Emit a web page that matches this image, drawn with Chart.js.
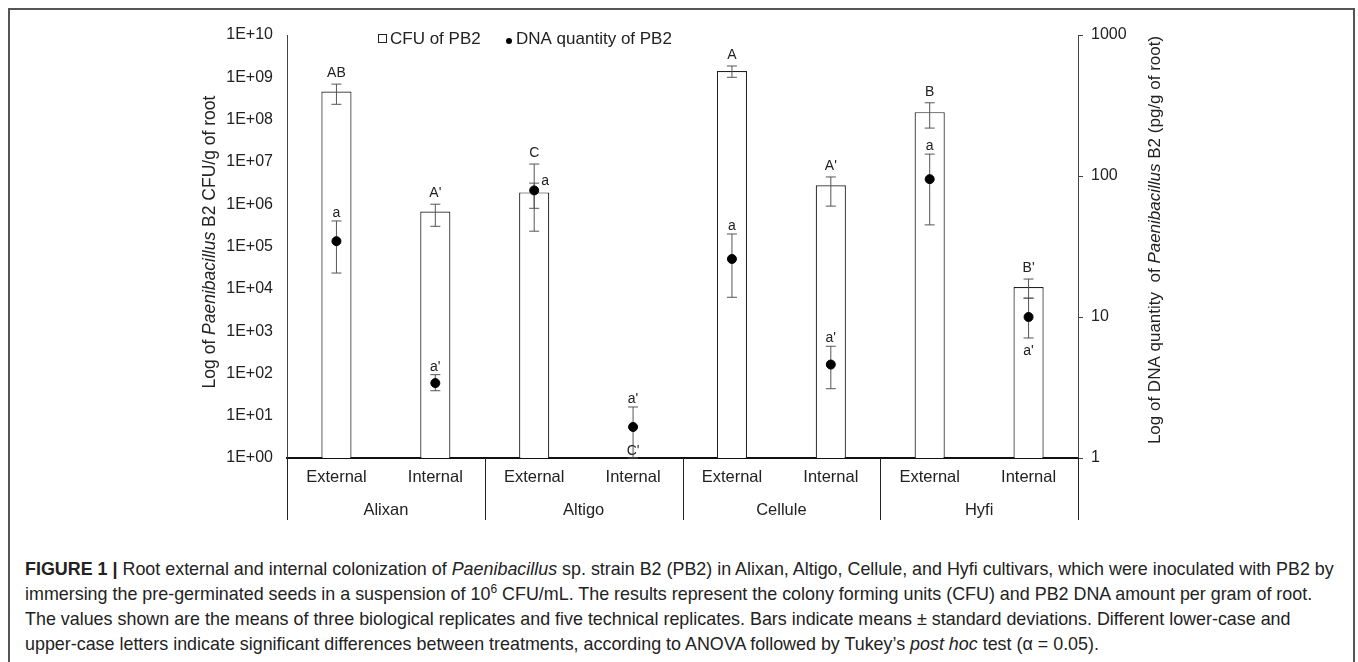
<!DOCTYPE html>
<html>
<head>
<meta charset="utf-8">
<script src="https://cdn.jsdelivr.net/npm/chart.js@4.4.0/dist/chart.umd.min.js"></script>
<style>
    body { margin: 0; background: #fff; width: 1358px; height: 662px; overflow: hidden; font-family: "Liberation Sans", Arial, sans-serif; }
    #frame { position: absolute; left: 8px; top: 8px; width: 1343px; height: 700px; border: 2px solid #555; border-bottom: none; }
    #wrap { position: absolute; left: 0; top: 0; width: 1358px; height: 540px; }
    #caption { position: absolute; left: 25px; top: 557px; font-size: 17.9px; line-height: 25px; color: #222; white-space: nowrap; }
    #caption b { font-weight: bold; }
</style>
</head>
<body>
<div id="frame"></div>
<div id="wrap"><canvas id="myChart" width="1358" height="540"></canvas></div>
<div id="caption">
<b>FIGURE 1 |</b> Root external and internal colonization of <i>Paenibacillus</i> sp. strain B2 (PB2) in Alixan, Altigo, Cellule, and Hyfi cultivars, which were inoculated with PB2 by<br>
immersing the pre-germinated seeds in a suspension of 10<sup style="font-size:12px;line-height:0">6</sup> CFU/mL. The results represent the colony forming units (CFU) and PB2 DNA amount per gram of root.<br>
The values shown are the means of three biological replicates and five technical replicates. Bars indicate means ± standard deviations. Different lower-case and<br>
upper-case letters indicate significant differences between treatments, according to ANOVA followed by Tukey’s <i>post hoc</i> test (α = 0.05).
</div>
<script>
// Cultivars and root compartments
const cultivars = ['Alixan', 'Altigo', 'Cellule', 'Hyfi'];
const compartments = ['External', 'Internal'];
const categories = ['External', 'Internal', 'External', 'Internal', 'External', 'Internal', 'External', 'Internal'];

// CFU of PB2 per g of root (left axis)
const cfuMean = [4.6e8, 6.7e5, 1.9e6, null, 1.4e9, 2.8e6, 1.5e8, 1.1e4];
const cfuHigh = [6.9e8, 1.0e6, 8.9e6, null, 1.85e9, 4.4e6, 2.5e8, 1.7e4];
const cfuLow = [2.3e8, 3.0e5, 2.3e5, null, 1.0e9, 9.0e5, 6.3e7, 6.0e3];

// DNA quantity of PB2, pg/g of root (right axis)
const dnaMean = [34.5, 3.4, 79, 1.66, 25.8, 4.6, 95, 10];
const dnaHigh = [48, 3.9, 89, 2.3, 38.8, 6.2, 143, 13.6];
const dnaLow = [20.5, 3.0, 59, 1.0, 13.8, 3.1, 45, 7.1];

// Tukey letters
const cfuLetters = ['AB', "A'", 'C', "C'", 'A', "A'", 'B', "B'"];
const dnaLetters = ['a', "a'", 'a', "a'", 'a', "a'", 'a', "a'"];

// Tick values
const leftTicks = [1, 1e1, 1e2, 1e3, 1e4, 1e5, 1e6, 1e7, 1e8, 1e9, 1e10];
const rightTicks = [1, 10, 100, 1000];

const FONT = '"Liberation Sans", Arial, sans-serif';
const INK = '#222';

function sciLabel(v) {
    const e = Math.round(Math.log10(v));
    return '1E+' + String(e).padStart(2, '0');
}

// draw text made of plain/italic pieces, rotated -90deg, centred at (cx, cy)
function drawRotatedTitle(ctx, parts, cx, cy, size) {
    ctx.save();
    ctx.translate(cx, cy);
    ctx.rotate(-Math.PI / 2);
    ctx.fillStyle = INK;
    ctx.textBaseline = 'middle';
    ctx.textAlign = 'left';
    let total = 0;
    parts.forEach(p => {
        ctx.font = (p.italic ? 'italic ' : '') + size + 'px ' + FONT;
        total += ctx.measureText(p.text).width;
    });
    let x = -total / 2;
    parts.forEach(p => {
        ctx.font = (p.italic ? 'italic ' : '') + size + 'px ' + FONT;
        ctx.fillText(p.text, x, 0);
        x += ctx.measureText(p.text).width;
    });
    ctx.restore();
}

function errorBar(ctx, x, yTop, yBot) {
    ctx.beginPath();
    ctx.moveTo(x, yTop); ctx.lineTo(x, yBot);
    ctx.moveTo(x - 5, yTop); ctx.lineTo(x + 5, yTop);
    ctx.moveTo(x - 5, yBot); ctx.lineTo(x + 5, yBot);
    ctx.stroke();
}

const overlay = {
    id: 'overlay',
    beforeDatasetDraw(chart, args) {
        if (args.index !== 1) return;
        const ctx = chart.ctx;
        const xs = chart.scales.x, y = chart.scales.y, y2 = chart.scales.y2;
        ctx.save();
        ctx.strokeStyle = '#555';
        ctx.lineWidth = 1;
        categories.forEach((c, i) => {
            const x = xs.getPixelForValue(i);
            if (cfuMean[i] != null) errorBar(ctx, x, y.getPixelForValue(cfuHigh[i]), y.getPixelForValue(cfuLow[i]));
            errorBar(ctx, x, y2.getPixelForValue(dnaHigh[i]), y2.getPixelForValue(dnaLow[i]));
        });
        ctx.restore();
    },
    afterDatasetsDraw(chart) {
        const ctx = chart.ctx;
        const area = chart.chartArea;
        const xs = chart.scales.x, y = chart.scales.y, y2 = chart.scales.y2;
        ctx.save();
        ctx.fillStyle = INK;
        ctx.textAlign = 'center';
        ctx.textBaseline = 'alphabetic';
        ctx.font = '14px ' + FONT;
        categories.forEach((c, i) => {
            const x = xs.getPixelForValue(i);
            // upper-case letters (CFU)
            if (cfuMean[i] != null) {
                ctx.fillText(cfuLetters[i], x, y.getPixelForValue(cfuHigh[i]) - 7);
            } else {
                ctx.fillText(cfuLetters[i], x, area.bottom - 3);
            }
            // lower-case letters (DNA)
            if (i === 2) {
                ctx.textAlign = 'left';
                ctx.fillText(dnaLetters[i], x + 7, y2.getPixelForValue(dnaMean[i]) - 5);
                ctx.textAlign = 'center';
            } else if (i === 7) {
                ctx.fillText(dnaLetters[i], x, y2.getPixelForValue(dnaLow[i]) + 17);
            } else {
                ctx.fillText(dnaLetters[i], x, y2.getPixelForValue(dnaHigh[i]) - 4);
            }
        });

        // cultivar separators and labels under the axis
        const w = (area.right - area.left) / cultivars.length;
        ctx.strokeStyle = INK;
        ctx.lineWidth = 1;
        for (let k = 0; k <= cultivars.length; k++) {
            const x = Math.round(area.left + k * w) + 0.5;
            ctx.beginPath();
            ctx.moveTo(x, area.bottom);
            ctx.lineTo(x, area.bottom + 62);
            ctx.stroke();
        }
        ctx.font = '16.5px ' + FONT;
        ctx.textBaseline = 'middle';
        cultivars.forEach((name, k) => {
            ctx.fillText(name, area.left + (k + 0.5) * w, area.bottom + 52);
        });

        // legend
        ctx.font = '17px ' + FONT;
        ctx.textAlign = 'left';
        ctx.strokeRect(378.5, 34.5, 8, 8);
        ctx.fillText('CFU of PB2', 390, 39);
        ctx.fillStyle = '#000';
        ctx.beginPath();
        ctx.arc(509, 41, 3, 0, Math.PI * 2);
        ctx.fill();
        ctx.fillStyle = INK;
        ctx.fillText('DNA quantity of PB2', 516, 39);

        // axis titles
        drawRotatedTitle(ctx, [
            { text: 'Log of ' },
            { text: 'Paenibacillus', italic: true },
            { text: ' B2 CFU/g of root' }
        ], 210, 242, 17.5);
        drawRotatedTitle(ctx, [
            { text: 'Log of DNA quantity  of ' },
            { text: 'Paenibacillus', italic: true },
            { text: ' B2 (pg/g of root)' }
        ], 1155, 240, 17);
        ctx.restore();
    }
};

const ctx = document.getElementById('myChart').getContext('2d');
new Chart(ctx, {
    data: {
        labels: categories,
        datasets: [
            {
                type: 'bar',
                label: 'CFU of PB2',
                data: cfuMean,
                yAxisID: 'y',
                backgroundColor: '#fff',
                borderColor: INK,
                borderWidth: 1.2,
                barPercentage: 0.305,
                categoryPercentage: 1,
                order: 2
            },
            {
                type: 'line',
                label: 'DNA quantity of PB2',
                data: dnaMean,
                yAxisID: 'y2',
                showLine: false,
                pointRadius: 4.5,
                pointBackgroundColor: '#000',
                pointBorderColor: '#000',
                order: 1
            }
        ]
    },
    options: {
        responsive: false,
        animation: false,
        layout: { padding: { top: 35, left: 0, right: 0, bottom: 0 } },
        plugins: { legend: { display: false }, tooltip: { enabled: false } },
        scales: {
            x: {
                grid: { display: false, drawTicks: false },
                border: { display: true, color: '#111', width: 2 },
                ticks: { color: INK, font: { family: FONT, size: 16.5 }, padding: 10, autoSkip: false, maxRotation: 0 },
                afterFit(s) { s.height = 82; }
            },
            y: {
                type: 'logarithmic',
                position: 'left',
                min: 1,
                max: 1e10,
                afterBuildTicks(s) { s.ticks = leftTicks.map(v => ({ value: v })); },
                ticks: { color: INK, font: { family: FONT, size: 16 }, padding: 14, callback: v => sciLabel(v) },
                grid: { display: false, drawTicks: false },
                border: { display: true, color: '#444', width: 1 },
                afterFit(s) { s.width = 287; }
            },
            y2: {
                type: 'logarithmic',
                position: 'right',
                min: 1,
                max: 1000,
                afterBuildTicks(s) { s.ticks = rightTicks.map(v => ({ value: v })); },
                ticks: { color: INK, font: { family: FONT, size: 16 }, padding: 8, callback: v => String(v) },
                grid: { display: true, drawOnChartArea: false, drawTicks: true, tickLength: 5, color: '#444' },
                border: { display: true, color: '#444', width: 1 },
                afterFit(s) { s.width = 280; }
            }
        }
    },
    plugins: [overlay]
});
</script>
</body>
</html>
